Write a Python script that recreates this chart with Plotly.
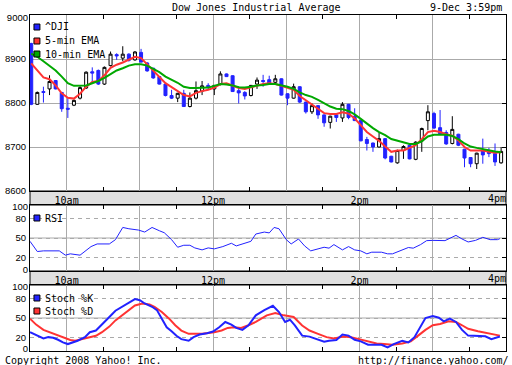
import plotly.graph_objects as go

DAY = "2008-12-09 "

# ---------------- data ----------------
candle_time = ["09:31","09:36","09:41","09:46","09:51","09:56",
 "10:01","10:06","10:11","10:16","10:21","10:26","10:31","10:36","10:41","10:46","10:51","10:56",
 "11:01","11:06","11:11","11:16","11:21","11:26","11:31","11:36","11:41","11:46","11:51","11:56",
 "12:01","12:06","12:11","12:16","12:21","12:26","12:31","12:36","12:41","12:46","12:51","12:56",
 "13:01","13:06","13:11","13:16","13:21","13:26","13:31","13:36","13:41","13:46","13:51","13:56",
 "14:01","14:06","14:11","14:16","14:21","14:26","14:31","14:36","14:41","14:46","14:51","14:56",
 "15:01","15:06","15:11","15:16","15:21","15:26","15:31","15:36","15:41","15:46","15:51","15:56"]

dji_open = [8935,8797,8826,8832,8851,8824,8788,8795,8811,8834,8871,8874,8843,8885,8910,8902,8911,8898,8915,8891,
            8879,8860,8843,8817,8811,8822,8792,8811,8827,8840,8832,8842,8866,8862,8828,8824,8817,8843,8851,8853,
            8847,8855,8821,8811,8837,8802,8780,8794,8773,8756,8773,8766,8797,8770,8760,8717,8709,8700,8719,8679,
            8664,8692,8704,8672,8714,8760,8776,8744,8733,8708,8729,8695,8676,8662,8692,8692,8685,8664]
dji_high = [8937,8826,8837,8863,8852,8825,8811,8808,8838,8872,8881,8876,8883,8917,8913,8929,8913,8918,8923,8893,
            8880,8861,8845,8830,8823,8830,8824,8849,8850,8845,8841,8872,8867,8863,8838,8827,8841,8858,8864,8862,
            8864,8856,8822,8844,8838,8803,8799,8795,8774,8771,8776,8802,8798,8788,8761,8723,8710,8733,8720,8680,
            8694,8704,8705,8713,8744,8795,8780,8784,8738,8770,8730,8696,8677,8687,8719,8698,8708,8700]
dji_low = [8795,8796,8801,8818,8831,8780,8766,8793,8808,8832,8849,8841,8841,8883,8898,8895,8894,8896,8892,8871,
           8855,8842,8815,8809,8802,8791,8790,8808,8818,8830,8818,8840,8859,8825,8799,8808,8815,8832,8837,8844,
           8841,8817,8795,8810,8800,8776,8775,8764,8746,8742,8757,8757,8763,8759,8713,8692,8689,8699,8672,8665,
           8662,8673,8672,8670,8689,8738,8741,8729,8705,8706,8702,8654,8654,8650,8662,8677,8657,8662]
dji_close = [8797,8824,8824,8849,8832,8787,8786,8806,8835,8870,8868,8843,8881,8911,8907,8911,8897,8916,8893,8873,
             8857,8843,8817,8811,8822,8792,8811,8828,8839,8837,8840,8866,8860,8826,8823,8816,8840,8852,8849,8845,
             8855,8818,8811,8837,8802,8780,8794,8773,8755,8770,8767,8797,8767,8760,8714,8708,8700,8719,8675,8666,
             8692,8701,8673,8711,8742,8780,8743,8730,8707,8740,8704,8675,8662,8686,8682,8685,8666,8690]

ema5 = [8890,8875,8858,8854,8840,8822,8812,8810,8821,8837,8848,8850,8863,8880,8887,8892,8899,8905,8902,8888,
        8875,8861,8845,8836,8826,8818,8815,8823,8827,8830,8835,8843,8845,8840,8834,8832,8836,8840,8843,8845,
        8843,8839,8834,8830,8816,8806,8796,8785,8777,8775,8775,8779,8776,8765,8750,8734,8724,8714,8701,8689,
        8692,8692,8698,8704,8718,8734,8737,8734,8729,8726,8715,8700,8692,8692,8692,8689,8687,8688]
ema10 = [8912,8905,8895,8885,8874,8860,8845,8839,8839,8840,8845,8850,8857,8866,8874,8879,8885,8888,8888,8885,
         8877,8870,8860,8853,8846,8837,8834,8834,8834,8835,8839,8843,8842,8840,8836,8835,8837,8840,8841,8843,
         8843,8840,8837,8832,8824,8818,8814,8807,8799,8792,8787,8786,8782,8774,8764,8753,8743,8734,8727,8718,
         8714,8711,8707,8707,8713,8724,8728,8728,8728,8725,8718,8708,8701,8698,8695,8693,8690,8688]

rsi_time = ["09:30","09:36","09:41","09:54","09:59","10:03","10:11","10:15","10:20","10:25","10:35","10:40",
            "10:46","10:51","10:59","11:04","11:10","11:16","11:20","11:26","11:31","11:36","11:41","11:45",
            "11:51","11:56","12:01","12:08","12:15","12:19","12:25","12:31","12:35","12:42","12:46","12:50",
            "12:54","12:56","13:00","13:04","13:10","13:15","13:20","13:26","13:31","13:35","13:39","13:46",
            "13:51","13:56","14:01","14:06","14:10","14:18","14:23","14:27","14:32","14:40","14:44","14:50",
            "14:55","15:00","15:10","15:19","15:24","15:29","15:35","15:41","15:47","15:53","15:55"]
rsi_value = [45,29.5,30.5,30.5,24,26,24,29.5,37,41,41,47.5,
             66,64,62,59,66,61,58,47.5,36,39,39,35,
             32,35,33.5,37,42,38,41,45,56,59,57.7,66,
             64,58,47.5,41,48.5,38,30.5,33.5,36,34.6,40,32,
             37,32,30.5,26,28.5,28.5,26,26,29.5,35.6,34.6,40,
             46,46.4,46,54,48.5,44,46.4,51,47.5,47.5,49]

k_time = ["09:30","09:35","09:41","09:45","09:49","09:53","09:57","10:01","10:05","10:09","10:15","10:19",
          "10:24","10:29","10:35","10:40","10:46","10:51","10:56","11:00","11:04","11:10","11:14","11:18",
          "11:22","11:26","11:30","11:34","11:40","11:44","11:49","11:55","12:00","12:05","12:10","12:15",
          "12:19","12:24","12:29","12:35","12:42","12:49","12:54","12:59","13:03","13:07","13:13","13:19",
          "13:25","13:31","13:35","13:41","13:46","13:51","13:56","14:01","14:07","14:12","14:18","14:23",
          "14:28","14:35","14:40","14:45","14:50","14:54","15:00","15:05","15:09","15:14","15:19","15:24",
          "15:29","15:36","15:43","15:48","15:53","15:55"]
k_value = [28.5,24.4,19,21,20,17,13,10.5,13,15.6,21,28.5,
           31,41,51.5,61,68,73.6,78.7,77,72,67,62,49,
           36,30,23,18,15.6,21,25,27,29.5,36,44,40,
           35,32,39,54,62,68.5,59,44,47.4,38.7,23.3,21.8,
           18,14,15.6,16.7,25,23.3,17,14.6,9.5,9,9.5,5.4,
           10.5,15.6,13,21,36,50,53,50.5,45,49,44,32,
           23.3,23.3,22.3,18,21,22]

d_time = ["09:30","09:35","09:41","09:46","09:51","09:57","10:03","10:07","10:13","10:19","10:24","10:29",
          "10:35","10:40","10:46","10:51","10:56","11:02","11:08","11:12","11:18","11:24","11:29","11:34",
          "11:40","11:45","11:51","11:56","12:01","12:07","12:12","12:17","12:23","12:29","12:35","12:44",
          "12:51","12:58","13:06","13:13","13:19","13:26","13:33","13:39","13:47","13:53","14:00","14:07",
          "14:14","14:20","14:27","14:35","14:42","14:48","14:54","15:00","15:06","15:13","15:19","15:24",
          "15:29","15:37","15:45","15:55"]
d_value = [49,40,32,28.5,26,21,16.7,15.6,18,21,23,28.5,
           37,46.4,55,63,69,72,70.5,67,59,49,39,31,
           26,26,26,27.4,28.5,31,35,36,35,39,44,54,
           57.7,54,51.5,38.7,31,26,21,19,22,21,18,14,
           11.5,10.5,9.5,11.5,14.6,23.3,32,39,41,45,44,39,
           33.6,30,27,23.3]

hour_ticks = ["10:00","11:00","12:00","13:00","14:00","15:00","16:00"]
hour_labels = ["10am","","12pm","","2pm","",""]
end_tick = ["16:00"]
end_label = ["4pm"]
half_ticks = ["10:30","11:30","12:30","13:30","14:30","15:30"]
price_ticks = [8600,8700,8800,8900]
price_top = [9000]
osc_ticks = [20,50,80]
osc_top = [100]
osc_bottom = [0]

# ---------------- styling ----------------
BLUE = "#2222ff"
RED = "#ff3333"
GREEN = "#00a800"
GRID = "#aaaaaa"
BAND = "#e0e0e0"
MONO = "DejaVu Sans Mono"
SANS = "Liberation Sans"

def ts(lst):
    return [DAY + t for t in lst]

fig = go.Figure()
fig.add_trace(go.Candlestick(
    x=ts(candle_time), open=dji_open, high=dji_high, low=dji_low, close=dji_close,
    increasing=dict(line=dict(color="black", width=1), fillcolor="white"),
    decreasing=dict(line=dict(color=BLUE, width=1), fillcolor=BLUE),
    whiskerwidth=0, name="^DJI", xaxis="x", yaxis="y", hoverinfo="skip"))
fig.add_trace(go.Scatter(x=ts(candle_time), y=ema5, mode="lines", name="5-min EMA",
                         line=dict(color=RED, width=2), xaxis="x", yaxis="y"))
fig.add_trace(go.Scatter(x=ts(candle_time), y=ema10, mode="lines", name="10-min EMA",
                         line=dict(color=GREEN, width=2), xaxis="x", yaxis="y"))
fig.add_trace(go.Scatter(x=ts(rsi_time), y=rsi_value, mode="lines", name="RSI",
                         line=dict(color=BLUE, width=1), xaxis="x2", yaxis="y2"))
fig.add_trace(go.Scatter(x=ts(d_time), y=d_value, mode="lines", name="Stoch %D",
                         line=dict(color=RED, width=2), xaxis="x3", yaxis="y3"))
fig.add_trace(go.Scatter(x=ts(k_time), y=k_value, mode="lines", name="Stoch %K",
                         line=dict(color=BLUE, width=2), xaxis="x3", yaxis="y3"))

# empty helper traces so the overlay axes (edge labels / right-side ticks) get drawn
for xa, ya in [("x", "y4"), ("x2", "y5"), ("x3", "y6"), ("x", "y7"), ("x2", "y8"),
               ("x2", "y9"), ("x3", "y10"), ("x3", "y11"), ("x4", "y"), ("x5", "y2")]:
    fig.add_trace(go.Scatter(x=[None], y=[None], mode="lines", xaxis=xa, yaxis=ya,
                             showlegend=False, hoverinfo="skip"))

H_TOP, H_BOT = 15, 14
PH = 365 - H_TOP - H_BOT  # 336
def py(p):
    return (365 - H_BOT - p) / PH
def px(p):
    return (p - 27) / 480

TICKFONT = dict(family=SANS, size=9.5, color="black")
XFONT = dict(family=MONO, size=10, color="black")
XRANGE = [DAY + "09:30", DAY + "16:00"]

xcommon = dict(type="date", range=XRANGE,
               tickmode="array", tickvals=ts(hour_ticks), ticktext=hour_labels,
               showgrid=True, gridcolor=GRID, gridwidth=1, ticks="",
               showline=True, mirror="ticks", linecolor="black", linewidth=1,
               minor=dict(tickmode="array", tickvals=ts(half_ticks), ticks="inside",
                          ticklen=4, tickcolor="black", tickwidth=1, showgrid=False),
               tickfont=XFONT, fixedrange=True, zeroline=False)

def end_x(over, ya):
    return dict(overlaying=over, anchor=ya, side="bottom", type="date", range=XRANGE,
                tickmode="array", tickvals=ts(end_tick), ticktext=end_label, ticks="",
                showgrid=False, showline=False, zeroline=False, tickfont=XFONT,
                ticklabelposition="outside left", ticklabeloverflow="allow", fixedrange=True)

def main_y(domain, rng, vals, dash):
    return dict(domain=domain, range=rng, tickmode="array", tickvals=vals,
                showgrid=True, gridcolor=GRID, griddash=dash, ticks="", showline=True, mirror=True,
                linecolor="black", tickfont=TICKFONT, ticklabelstandoff=1,
                zeroline=False, fixedrange=True)

def right_ticks(over, xa, rng, vals):
    return dict(overlaying=over, anchor=xa, side="right", range=rng, tickmode="array",
                tickvals=vals, ticks="inside", ticklen=4, tickcolor="black",
                showticklabels=False, showgrid=False, zeroline=False, fixedrange=True)

def edge_labels(over, xa, rng, vals, shift):
    return dict(overlaying=over, anchor=xa, side="left", range=rng, tickmode="array",
                tickvals=vals, ticks="", showgrid=False, zeroline=False, showline=False,
                tickfont=TICKFONT, ticklabelstandoff=1, ticklabelshift=shift,
                ticklabeloverflow="allow", fixedrange=True)

fig.update_layout(
    width=512, height=365,
    margin=dict(l=27, r=5, t=H_TOP, b=H_BOT),
    paper_bgcolor="white", plot_bgcolor="white",
    showlegend=False,
    xaxis=dict(xcommon, anchor="y", domain=[0, 1], rangeslider=dict(visible=False)),
    xaxis2=dict(xcommon, anchor="y2", domain=[0, 1], matches="x"),
    xaxis3=dict(xcommon, anchor="y3", domain=[0, 1], matches="x", showticklabels=False),
    xaxis4=end_x("x", "y"),
    xaxis5=end_x("x2", "y2"),
    yaxis=main_y([py(191), py(15)], [8600, 9000], price_ticks, "solid"),
    yaxis2=main_y([py(271), py(205)], [0, 100], osc_ticks, "4px,4px"),
    yaxis3=main_y([py(351), py(285)], [0, 100], osc_ticks, "4px,4px"),
    yaxis4=right_ticks("y", "x", [8600, 9000], price_ticks),
    yaxis5=right_ticks("y2", "x2", [0, 100], osc_ticks),
    yaxis6=right_ticks("y3", "x3", [0, 100], osc_ticks),
    yaxis7=edge_labels("y", "x", [8600, 9000], price_top, 3),
    yaxis8=edge_labels("y2", "x2", [0, 100], osc_top, 2),
    yaxis9=edge_labels("y2", "x2", [0, 100], osc_bottom, -1),
    yaxis10=edge_labels("y3", "x3", [0, 100], osc_top, 2),
    yaxis11=edge_labels("y3", "x3", [0, 100], osc_bottom, -2),
)

shapes = [
    dict(type="rect", xref="paper", yref="paper", x0=0, x1=1, y0=py(205), y1=py(191),
         fillcolor=BAND, line=dict(color="black", width=1), layer="below"),
    dict(type="rect", xref="paper", yref="paper", x0=0, x1=1, y0=py(285), y1=py(271),
         fillcolor=BAND, line=dict(color="black", width=1), layer="below"),
    dict(type="line", xref="x2 domain", yref="y2", x0=0, x1=1, y0=50, y1=50,
         line=dict(color=GRID, width=1), layer="below"),
    dict(type="line", xref="x3 domain", yref="y3", x0=0, x1=1, y0=50, y1=50,
         line=dict(color=GRID, width=1), layer="below"),
]

legend_items = [("^DJI", BLUE, 27), ("5-min EMA", RED, 41), ("10-min EMA", GREEN, 54),
                ("RSI", BLUE, 218), ("Stoch %K", BLUE, 298), ("Stoch %D", RED, 311)]
annotations = []
for label, col, yc in legend_items:
    shapes.append(dict(type="rect", xref="paper", yref="paper", x0=px(31), x1=px(37),
                       y0=py(yc + 3), y1=py(yc - 3), fillcolor=col,
                       line=dict(color="#000000", width=1), layer="above"))
    annotations.append(dict(text=label, xref="paper", yref="paper", x=px(40), y=py(yc),
                            xanchor="left", yanchor="middle", showarrow=False,
                            font=dict(family=MONO, size=10, color="black")))

annotations += [
    dict(text="Dow Jones Industrial Average", xref="paper", yref="paper", x=px(255), y=py(7),
         xanchor="center", yanchor="middle", showarrow=False, font=dict(family=MONO, size=10, color="black")),
    dict(text="9-Dec 3:59pm", xref="paper", yref="paper", x=px(505), y=py(7),
         xanchor="right", yanchor="middle", showarrow=False, font=dict(family=MONO, size=10, color="black")),
    dict(text="Copyright 2008 Yahoo! Inc.", xref="paper", yref="paper", x=px(0), y=py(360.5),
         xanchor="left", yanchor="middle", showarrow=False, font=dict(family=MONO, size=10, color="black")),
    dict(text="http://finance.yahoo.com/", xref="paper", yref="paper", x=px(512), y=py(360.5),
         xanchor="right", yanchor="middle", showarrow=False, font=dict(family=MONO, size=10, color="black")),
]

fig.update_layout(shapes=shapes, annotations=annotations)
fig.write_html("out.html", config={"displayModeBar": False},
               post_script="document.body.style.margin='0';document.body.style.overflow='hidden';")
